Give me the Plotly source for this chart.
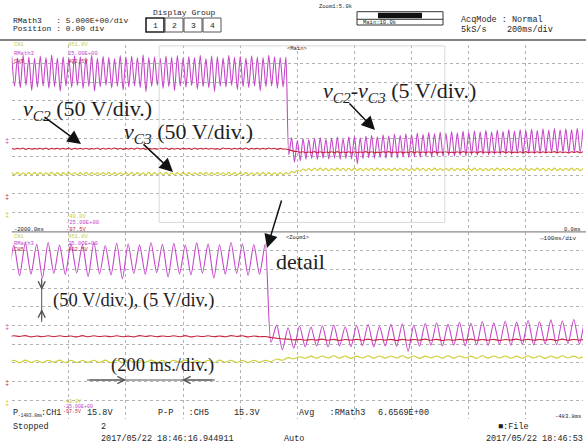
import plotly.graph_objects as go

W, H = 586, 446

# ---- acquisition: 2 s record, 50 Hz ripple (one peak + one trough per 20 ms cycle) ----
RECORD_START_MS = -2000.0
RECORD_END_MS = 0.0
CYCLE_MS = 20.0
ZOOM_START_MS = -1483.8
ZOOM_END_MS = -483.8

# RMath3 = vC2 - vC3 (5 V/div), screen divisions
rmath3_peak_div = [
    9.38, 9.31, 9.44, 9.35, 9.28, 9.41, 9.33, 9.46, 9.30, 9.37,
    9.29, 9.42, 9.36, 9.32, 9.45, 9.30, 9.39, 9.34, 9.27, 9.43,
    9.35, 9.40, 9.31, 9.47, 9.33, 9.36, 9.29, 9.41, 9.34, 9.43,
    9.30, 9.38, 9.32, 9.45, 9.28, 9.40, 9.36, 9.31, 9.44, 9.34,
    9.39, 9.30, 9.42, 9.35, 9.32, 9.45, 9.37, 9.33,
    9.36,
    5.02, 4.88, 4.97, 4.92, 4.99, 5.03, 4.93, 5.00, 5.05, 4.96, 5.06,
    5.09, 5.01, 5.11, 5.15, 5.06, 5.17, 5.12, 5.21, 5.14, 5.23,
    5.18, 5.27, 5.20, 5.30, 5.24, 5.32, 5.26, 5.35, 5.28, 5.37,
    5.31, 5.39, 5.33, 5.41, 5.34, 5.43, 5.36, 5.45, 5.38, 5.46,
    5.40, 5.48, 5.41, 5.49, 5.43, 5.51, 5.44, 5.50, 5.46, 5.52, 5.47,
]
rmath3_trough_div = [
    7.78, 7.70, 7.82, 7.56, 7.74, 7.80, 7.68, 7.76, 7.51, 7.79,
    7.72, 7.81, 7.66, 7.77, 7.53, 7.75, 7.83, 7.69, 7.78, 7.58,
    7.74, 7.80, 7.71, 7.49, 7.77, 7.82, 7.67, 7.75, 7.55, 7.79,
    7.73, 7.81, 7.62, 7.76, 7.70, 7.50, 7.78, 7.74, 7.83, 7.60,
    7.76, 7.71, 7.80, 7.54, 7.75, 7.79, 7.68, 7.74,
    4.10,
    3.70, 3.78, 3.86, 3.90, 3.85, 3.91, 3.87, 3.92, 3.86, 3.90, 3.88,
    3.62, 3.89, 3.94, 3.90, 3.95, 3.91, 3.96, 3.93, 3.98, 3.94,
    3.99, 3.96, 4.01, 3.97, 4.03, 4.00, 4.05, 4.02, 4.07, 4.04,
    4.09, 4.06, 4.11, 4.08, 4.13, 4.10, 4.15, 4.12, 4.17, 4.14,
    4.18, 4.15, 4.20, 4.17, 4.22, 4.19, 4.24, 4.21, 4.25, 4.23,
]

# CH5 = vC2 (50 V/div)
ch5_peak_div = [
    4.45, 4.44, 4.46, 4.45, 4.43, 4.45, 4.46, 4.44, 4.45, 4.44,
    4.46, 4.45, 4.44, 4.45, 4.43, 4.46, 4.45, 4.44, 4.46, 4.45,
    4.44, 4.45, 4.46, 4.44, 4.45, 4.43, 4.45, 4.46, 4.44, 4.45,
    4.45, 4.44, 4.46, 4.45, 4.44, 4.45, 4.43, 4.46, 4.45, 4.44,
    4.45, 4.46, 4.44, 4.45, 4.44, 4.46, 4.45, 4.44,
    4.41, 4.32, 4.27,
    4.26, 4.25, 4.27, 4.26, 4.25, 4.26, 4.27, 4.25, 4.26,
    4.26, 4.25, 4.27, 4.26, 4.24, 4.26, 4.27, 4.25, 4.26, 4.25,
    4.27, 4.26, 4.25, 4.26, 4.27, 4.25, 4.26, 4.24, 4.26, 4.27,
    4.25, 4.26, 4.27, 4.25, 4.26, 4.25, 4.27, 4.26, 4.24, 4.26,
    4.27, 4.25, 4.26, 4.26, 4.25, 4.27, 4.26, 4.25, 4.26, 4.27, 4.26,
]
ch5_trough_div = [
    4.40, 4.41, 4.39, 4.40, 4.41, 4.40, 4.39, 4.41, 4.40, 4.40,
    4.39, 4.41, 4.40, 4.40, 4.41, 4.39, 4.40, 4.41, 4.40, 4.39,
    4.41, 4.40, 4.40, 4.39, 4.41, 4.40, 4.41, 4.39, 4.40, 4.40,
    4.41, 4.39, 4.40, 4.41, 4.40, 4.40, 4.39, 4.41, 4.40, 4.41,
    4.40, 4.39, 4.41, 4.40, 4.40, 4.41, 4.39, 4.40,
    4.36, 4.28, 4.23,
    4.21, 4.22, 4.21, 4.20, 4.22, 4.21, 4.21, 4.22, 4.20,
    4.21, 4.22, 4.21, 4.20, 4.21, 4.22, 4.21, 4.21, 4.20, 4.22,
    4.21, 4.21, 4.22, 4.20, 4.21, 4.22, 4.21, 4.20, 4.21, 4.22,
    4.21, 4.20, 4.22, 4.21, 4.21, 4.22, 4.20, 4.21, 4.22, 4.21,
    4.21, 4.22, 4.20, 4.21, 4.22, 4.21, 4.21, 4.20, 4.22, 4.21,
]

# CH1 = vC3 (50 V/div)
ch1_peak_div = [
    3.14, 3.15, 3.13, 3.14, 3.15, 3.14, 3.13, 3.15, 3.14, 3.14,
    3.15, 3.13, 3.14, 3.15, 3.14, 3.13, 3.14, 3.15, 3.14, 3.13,
    3.14, 3.15, 3.14, 3.13, 3.15, 3.14, 3.14, 3.15, 3.13, 3.14,
    3.15, 3.14, 3.13, 3.14, 3.15, 3.14, 3.14, 3.13, 3.15, 3.14,
    3.14, 3.15, 3.13, 3.14, 3.15, 3.14, 3.13, 3.14,
    3.14, 3.21, 3.28, 3.33,
    3.36, 3.37, 3.38, 3.37, 3.36, 3.38, 3.37, 3.37,
    3.38, 3.37, 3.36, 3.37, 3.38, 3.37, 3.36, 3.38, 3.37, 3.37,
    3.36, 3.38, 3.37, 3.37, 3.38, 3.36, 3.37, 3.38, 3.37, 3.36,
    3.37, 3.38, 3.37, 3.36, 3.37, 3.38, 3.37, 3.37, 3.36, 3.38,
    3.37, 3.36, 3.38, 3.37, 3.37, 3.38, 3.36, 3.37, 3.38, 3.37, 3.37,
]
ch1_trough_div = [
    3.02, 3.01, 3.03, 3.02, 3.02, 3.01, 3.03, 3.02, 3.01, 3.02,
    3.03, 3.02, 3.01, 3.02, 3.03, 3.02, 3.02, 3.01, 3.03, 3.02,
    3.02, 3.01, 3.03, 3.02, 3.02, 3.03, 3.01, 3.02, 3.02, 3.03,
    3.01, 3.02, 3.03, 3.02, 3.01, 3.02, 3.03, 3.02, 3.02, 3.01,
    3.03, 3.02, 3.02, 3.01, 3.03, 3.02, 3.02, 3.03,
    3.06, 3.14, 3.21, 3.25,
    3.25, 3.26, 3.25, 3.24, 3.26, 3.25, 3.25, 3.26,
    3.25, 3.24, 3.26, 3.25, 3.25, 3.26, 3.24, 3.25, 3.26, 3.25,
    3.25, 3.26, 3.24, 3.25, 3.26, 3.25, 3.25, 3.24, 3.26, 3.25,
    3.26, 3.25, 3.24, 3.25, 3.26, 3.25, 3.25, 3.26, 3.24, 3.25,
    3.25, 3.26, 3.25, 3.24, 3.26, 3.25, 3.25, 3.26, 3.25, 3.24,
]

MAGENTA = "#c546c8"
RED = "#c4243a"
YELLOW = "#cccc2e"
MONO = "Liberation Mono, DejaVu Sans Mono, monospace"
SERIF = "Liberation Serif, DejaVu Serif, serif"


def waveform(peaks, troughs):
    """Vertices of a ripple trace: peak at each cycle start, trough at mid-cycle."""
    t, v = [], []
    for k, lo in enumerate(troughs):
        t0 = RECORD_START_MS + k * CYCLE_MS
        t += [t0, t0 + CYCLE_MS / 2]
        v += [peaks[k], lo]
    t.append(RECORD_START_MS + len(troughs) * CYCLE_MS)
    v.append(peaks[len(troughs)])
    return t, v


signals = [
    (rmath3_peak_div, rmath3_trough_div, MAGENTA),
    (ch5_peak_div, ch5_trough_div, RED),
    (ch1_peak_div, ch1_trough_div, YELLOW),
]

fig = go.Figure()
for xa, ya in (("x", "y"), ("x2", "y2")):
    for peaks, troughs, color in signals:
        t, v = waveform(peaks, troughs)
        fig.add_trace(go.Scatter(
            x=t, y=v, mode="lines", xaxis=xa, yaxis=ya,
            line=dict(color=color, width=1.1, shape="spline", smoothing=0.7),
            hoverinfo="skip", showlegend=False,
        ))


def px(x):
    return x / W


def py(y):
    return 1 - y / H


grid = dict(showgrid=True, gridcolor="#b2b2b2", griddash="dot", gridwidth=1,
            zeroline=False, showticklabels=False, ticks="", showline=False,
            fixedrange=True)
X_DOM = [px(11.7), px(583.0)]

fig.update_layout(
    width=W, height=H, margin=dict(l=0, r=0, t=0, b=0),
    paper_bgcolor="white", plot_bgcolor="white",
    xaxis=dict(domain=X_DOM, range=[RECORD_START_MS, RECORD_END_MS],
               tick0=RECORD_START_MS, dtick=200, anchor="y", **grid),
    yaxis=dict(domain=[py(231), py(45)], range=[0, 10], tick0=0, dtick=1,
               anchor="x", **grid),
    xaxis2=dict(domain=X_DOM, range=[ZOOM_START_MS, ZOOM_END_MS],
                tick0=ZOOM_START_MS, dtick=100, anchor="y2", **grid),
    yaxis2=dict(domain=[py(419), py(232)], range=[0, 10], tick0=0, dtick=1,
                anchor="x2", **grid),
)

shapes = []
# frame lines of the scope screen
shapes.append(dict(type="line", xref="paper", yref="paper", x0=0, x1=1,
                   y0=py(40), y1=py(40), line=dict(color="#5a5a5a", width=1.5)))
shapes.append(dict(type="line", xref="paper", yref="paper", x0=px(11.7), x1=1,
                   y0=py(231.8), y1=py(231.8), line=dict(color="#8a8a8a", width=1.2)))
# zoom window marker on the main trace
shapes.append(dict(type="rect", xref="x", yref="y", x0=ZOOM_START_MS, x1=ZOOM_END_MS,
                   y0=0.46, y1=9.95, line=dict(color="#d9d9d9", width=1)))
# display group buttons
for i, cx in enumerate([155, 174, 193, 212]):
    shapes.append(dict(type="rect", xref="paper", yref="paper",
                       x0=px(cx - 9), x1=px(cx + 9), y0=py(32), y1=py(18),
                       line=dict(color="#222" if i == 0 else "#555",
                                 width=1.6 if i == 0 else 1)))
# zoom position indicator
shapes.append(dict(type="rect", xref="paper", yref="paper", x0=px(357), x1=px(443),
                   y0=py(25), y1=py(11.7), line=dict(color="#333", width=1)))
shapes.append(dict(type="line", xref="paper", yref="paper", x0=px(357), x1=px(443),
                   y0=py(19.3), y1=py(19.3), line=dict(color="#333", width=1)))
shapes.append(dict(type="rect", xref="paper", yref="paper", x0=px(378), x1=px(422),
                   y0=py(18.3), y1=py(12.7), fillcolor="#111", line=dict(width=0)))
# dimension guides
shapes.append(dict(type="line", xref="paper", yref="paper", x0=px(41.7), x1=px(41.7),
                   y0=py(278), y1=py(322), line=dict(color="#555", width=1)))
shapes.append(dict(type="line", xref="paper", yref="paper", x0=px(87), x1=px(215),
                   y0=py(380), y1=py(380), line=dict(color="#555", width=1)))
fig.update_layout(shapes=shapes)

ann = []


def label(x, y, text, size, color="#1e1e1e", family=MONO, xanchor="left"):
    ann.append(dict(x=px(x), y=py(y), xref="paper", yref="paper", text=text,
                    showarrow=False, xanchor=xanchor, yanchor="middle",
                    borderpad=0, font=dict(size=size, color=color, family=family)))


def arrow(tail, tip, head=2, size=1.8, width=1.5, color="#111"):
    ann.append(dict(x=px(tip[0]), y=py(tip[1]), xref="paper", yref="paper",
                    ax=tail[0] - tip[0], ay=tail[1] - tip[1], text="",
                    showarrow=True, arrowhead=head, arrowsize=size,
                    arrowwidth=width, arrowcolor=color))


NB = "\u00a0"
# header
label(12, 20, f"RMath3{NB}{NB}{NB}:{NB}5.000E+00/div", 8)
label(12, 29, f"Position{NB}:{NB}0.00{NB}div", 8)
label(152, 12.5, f"Display{NB}Group", 8)
for d, cx in zip("1234", [155, 174, 193, 212]):
    label(cx, 25, d, 8, xanchor="center")
label(318, 6, "Zoom1:5.0k", 5.5)
label(362, 22.3, "Main:10.0k", 5.5)
label(460, 20, f"AcqMode{NB}:{NB}Normal", 8.5)
label(460, 30, f"5kS/s{NB}{NB}{NB}{NB}200ms/div", 8.5)

# channel read-outs, main panel
for y, name, val, col in [(45, "CH1", "451.0V", YELLOW), (53, "RMath3", "25.00E+00", MAGENTA),
                          (61, "CH5", "402.5V", RED)]:
    label(13, y, name, 5.5, col)
    label(67, y, val, 5.5, col)
for y, val, col in [(216, "-49.0V", YELLOW), (222.5, "-25.00E+00", MAGENTA), (229, "-97.5V", RED)]:
    label(65, y, val, 5.5, col)
label(12.5, 229, "-2000.0ms", 5.5)
label(582, 229, "0.0ms", 5.5, xanchor="right")
label(297, 49, "&lt;Main&gt;", 5.5, xanchor="center")

# channel read-outs, zoom panel
for y, name, val, col in [(236, "CH1", "451.0V", YELLOW), (243, "RMath3", "25.00E+00", MAGENTA),
                          (250, "CH5", "402.5V", RED)]:
    label(13, y, name, 5.5, col)
    label(67, y, val, 5.5, col)
for y, val, col in [(402, "-49.0V", YELLOW), (407, "-25.00E+00", MAGENTA), (412, "-97.5V", RED)]:
    label(62, y, val, 5, col)
label(297, 237, "&lt;Zoom1&gt;", 5.5, xanchor="center")
label(577, 238, "↔100ms/div", 6, xanchor="right")
label(582, 416.5, "-483.8ms", 5.5, xanchor="right")

# ground markers at the left edge
for y, col in [(141, MAGENTA), (197, RED), (215, YELLOW), (327, MAGENTA), (383, RED), (403, YELLOW)]:
    label(7, y, "‡", 7, col, xanchor="center")

# measurement row
label(12, 413, "P", 8.5)
label(17, 415.5, "-1483.8ms", 4.5)
label(40, 413, ":CH1", 8.5)
label(86, 413, "15.8V", 8.5)
label(157, 413, f"P-P{NB}{NB}{NB}:CH5", 8.5)
label(233, 413, "15.3V", 8.5)
label(298, 413, f"Avg{NB}{NB}{NB}:RMath3", 8.5)
label(377, 413, "6.6569E+00", 8.5)

# status bar
label(12, 427, "Stopped", 8.5)
label(100, 427, "2", 8.5)
label(100, 439, f"2017/05/22{NB}18:46:16.944911", 8.5)
label(283, 439, "Auto", 8.5)
label(497, 427, "■:File", 8.5)
label(584, 439, f"2017/05/22{NB}18:46:53", 8.5, xanchor="right")

# signal annotations
label(22, 110, "<i>v</i><sub><i>C2</i></sub> (50 V/div.)", 22, family=SERIF)
label(123, 133, "<i>v</i><sub><i>C3</i></sub> (50 V/div.)", 22, family=SERIF)
label(322, 92, "<i>v</i><sub><i>C2</i></sub>-<i>v</i><sub><i>C3</i></sub> (5 V/div.)", 22, family=SERIF)
label(275, 261, "detail", 22, family=SERIF)
label(52, 300, "(50 V/div.), (5 V/div.)", 18.5, family=SERIF)
label(110, 365, "(200 ms./div.)", 18.5, family=SERIF)

arrow((43, 116), (81, 144))
arrow((142, 143), (173, 172))
arrow((348, 102), (375, 130))
arrow((282, 199), (267, 248))
# dimension chevrons
arrow((41.7, 279), (41.7, 290), head=5, size=1.4, width=1, color="#555")
arrow((41.7, 321), (41.7, 309), head=5, size=1.4, width=1, color="#555")
arrow((88, 380), (126, 380), head=5, size=1.4, width=1, color="#555")
arrow((214, 380), (182, 380), head=5, size=1.4, width=1, color="#555")

fig.update_layout(annotations=ann)
fig.write_html("out.html")
